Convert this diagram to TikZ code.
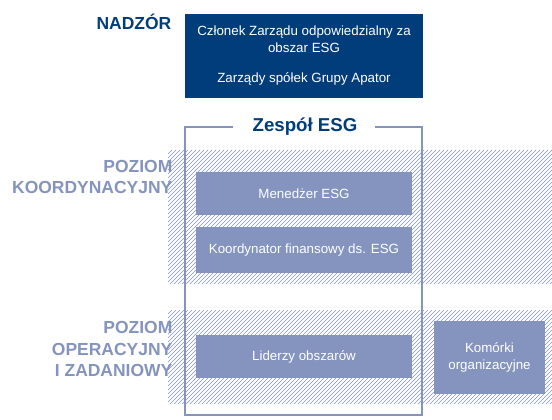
\documentclass[tikz,border=0pt]{standalone}
\usepackage{fontspec}
\setmainfont{Liberation Sans}

\definecolor{navy}{RGB}{0,61,122}
\definecolor{greyblue}{RGB}{132,148,190}

\tikzset{
  level/.style={text=greyblue, font=\fontsize{13.1}{16}\selectfont\bfseries, align=right, anchor=east},
  rolebox/.style={fill=greyblue, text=white, font=\fontsize{10}{12.8}\selectfont, align=center, inner sep=0pt},
  boardtext/.style={text=white, font=\fontsize{10}{12.8}\selectfont, align=center, inner sep=0pt},
  hatch/.style={greyblue, line width=0.45pt}
}

\begin{document}
\begin{tikzpicture}[x=0.75pt, y=-0.75pt]
  \useasboundingbox (0,0) rectangle (552,420);

  % The hatched levels
  \begin{scope}
    \clip (168,150) rectangle (552,284);
    \foreach \x in {30,34,...,560}
      \draw[hatch] (\x,284) -- ++(134,-134);
  \end{scope}
  \begin{scope}
    \clip (168,310) rectangle (552,404);
    \foreach \x in {70,74,...,560}
      \draw[hatch] (\x,404) -- ++(94,-94);
  \end{scope}

  % Supervision
  \node[level, text=navy] (nadzor) at (176,22) {NADZÓR};
  \node[fill=navy, minimum width=178.5pt, minimum height=63pt, inner sep=0pt] (zarzad) at (304,56) {};
  \node[boardtext] (czlonek) at (304,39) {Członek Zarządu odpowiedzialny za\\obszar ESG};
  \node[boardtext] (spolki) at (304,79) {Zarządy spółek Grupy Apator};

  % Levels
  \node[level] (koord) at (177,177) {POZIOM\\KOORDYNACYJNY};
  \node[level] (oper) at (177,349) {POZIOM\\OPERACYJNY\\I ZADANIOWY};

  % The team frame
  \node[text=navy, font=\fontsize{14}{16}\selectfont\bfseries] (zespol) at (305,127) {Zespół ESG};
  \draw[greyblue, line width=1.5pt] (233,127) -- (185,127) -- (185,415) -- (422,415) -- (422,127) -- (375,127);

  % Roles
  \node[rolebox, minimum width=162pt, minimum height=32.25pt] (menedzer) at (304,193.5) {Menedżer ESG};
  \node[rolebox, minimum width=162pt, minimum height=34.5pt] (koordynator) at (304,250) {Koordynator finansowy ds. ESG};
  \node[rolebox, minimum width=162pt, minimum height=32.25pt] (liderzy) at (304,356.5) {Liderzy obszarów};
  \node[rolebox, minimum width=83.25pt, minimum height=54.75pt] (komorki) at (489.5,357.5) {Komórki\\organizacyjne};
\end{tikzpicture}
\end{document}
